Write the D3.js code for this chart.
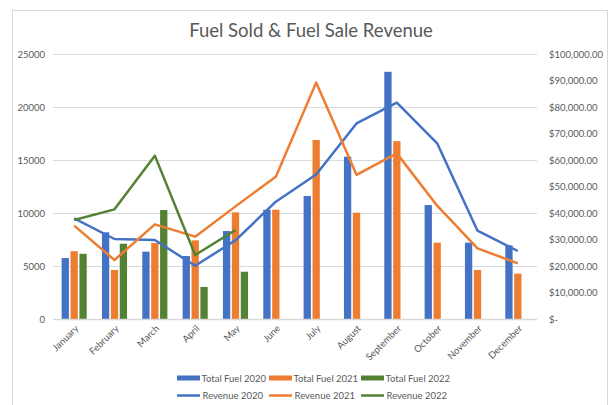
<!DOCTYPE html>
<html>
<head>
<meta charset="utf-8">
<script src="https://cdn.jsdelivr.net/npm/d3@7"></script>
<style>
  html, body { margin: 0; padding: 0; background: #fff; }
  svg { display: block; font-family: Lato, "Open Sans", sans-serif; }
</style>
</head>
<body>
<svg id="chart" width="612" height="405"></svg>
<script>
const months = ["January","February","March","April","May","June","July","August","September","October","November","December"];
const fuel2020 = [5750, 8180, 6350, 5940, 8300, 10310, 11600, 15310, 23320, 10750, 7200, 6950];
const fuel2021 = [6400, 4620, 7170, 7420, 10060, 10310, 16890, 10030, 16780, 7200, 4620, 4280];
const fuel2022 = [6150, 7100, 10280, 3020, 4460, null, null, null, null, null, null, null];
const revenue2020 = [38000, 30190, 29800, 20100, 29700, 44270, 54500, 73800, 81630, 66290, 33330, 25660];
const revenue2021 = [35220, 22260, 35720, 31070, 42500, 53700, 89200, 54400, 62500, 42770, 26670, 21000];
const revenue2022 = [37360, 41380, 61640, 24150, 33580, null, null, null, null, null, null, null];
const leftTicks = [0, 5000, 10000, 15000, 20000, 25000];
const rightTicks = [0, 10000, 20000, 30000, 40000, 50000, 60000, 70000, 80000, 90000, 100000];
const barSeries = ["Total Fuel 2020", "Total Fuel 2021", "Total Fuel 2022"];
const lineSeries = ["Revenue 2020", "Revenue 2021", "Revenue 2022"];
const colors = ["#4472C4", "#ED7D31", "#548235"];

const svg = d3.select("#chart");
const textColor = "#595959";
const plot = { left: 54, right: 538, top: 54, bottom: 319 };

// chart border
svg.append("rect").attr("x", 12.5).attr("y", 10.5).attr("width", 595).attr("height", 420)
  .attr("fill", "none").attr("stroke", "#d9d9d9").attr("stroke-width", 1);

// title
svg.append("text").attr("x", 311).attr("y", 37).attr("text-anchor", "middle")
  .attr("font-size", 18.5).attr("fill", textColor).text("Fuel Sold & Fuel Sale Revenue");

const x0 = d3.scaleBand().domain(months).range([plot.left, plot.right]).padding(0);
const x1 = d3.scaleBand().domain(barSeries).range([0, x0.bandwidth()]).paddingInner(0.18).paddingOuter(0.855);
const yL = d3.scaleLinear().domain([0, 25000]).range([plot.bottom, plot.top]);
const yR = d3.scaleLinear().domain([0, 100000]).range([plot.bottom, plot.top]);

// gridlines
svg.append("g").selectAll("line").data(leftTicks.filter(d => d > 0)).join("line")
  .attr("x1", plot.left - 1).attr("x2", plot.right - 1)
  .attr("y1", d => Math.round(yL(d)) + 0.5).attr("y2", d => Math.round(yL(d)) + 0.5)
  .attr("stroke", "#d9d9d9").attr("stroke-width", 1);

// left axis
const axL = d3.axisLeft(yL).tickValues(leftTicks).tickSize(0).tickPadding(0).tickFormat(d3.format("d"));
svg.append("g").attr("transform", `translate(45,0)`).call(axL)
  .call(g => g.select(".domain").remove())
  .selectAll("text").attr("fill", textColor).attr("font-size", 9.5).attr("font-family", "Lato, sans-serif");

// right axis
const fmtR = d => d === 0 ? "$-" : "$" + d3.format(",.2f")(d);
const axR = d3.axisRight(yR).tickValues(rightTicks).tickSize(0).tickPadding(0).tickFormat(fmtR);
svg.append("g").attr("transform", `translate(549,0)`).call(axR)
  .call(g => g.select(".domain").remove())
  .selectAll("text").attr("fill", textColor).attr("font-size", 9.5).attr("font-family", "Lato, sans-serif");

// bars
const barData = [fuel2020, fuel2021, fuel2022];
barData.forEach((arr, si) => {
  svg.append("g").selectAll("rect")
    .data(arr.map((v, i) => ({ m: months[i], v })).filter(d => d.v != null))
    .join("rect")
    .attr("x", d => x0(d.m) + x1(barSeries[si]))
    .attr("width", x1.bandwidth())
    .attr("y", d => yL(d.v))
    .attr("height", d => yL(0) - yL(d.v))
    .attr("fill", colors[si]);
});

// x axis baseline
svg.append("line").attr("x1", plot.left - 1).attr("x2", plot.right - 1)
  .attr("y1", plot.bottom + 0.5).attr("y2", plot.bottom + 0.5)
  .attr("stroke", "#d9d9d9").attr("stroke-width", 1.5);

// x labels
const axB = d3.axisBottom(x0).tickSize(0).tickPadding(0);
const gB = svg.append("g").attr("transform", `translate(0,${plot.bottom})`).call(axB);
gB.select(".domain").remove();
gB.selectAll("text")
  .attr("fill", textColor).attr("font-size", 9.5).attr("font-family", "Lato, sans-serif")
  .attr("text-anchor", "end").attr("dy", null).attr("y", 0)
  .attr("transform", "translate(5,10) rotate(-45)");

// lines
const revData = [revenue2020, revenue2021, revenue2022];
const line = d3.line()
  .defined(d => d.v != null)
  .x(d => x0(d.m) + x0.bandwidth() / 2)
  .y(d => yR(d.v));
revData.forEach((arr, si) => {
  svg.append("path")
    .datum(arr.map((v, i) => ({ m: months[i], v })))
    .attr("d", line)
    .attr("fill", "none").attr("stroke", colors[si]).attr("stroke-width", 2.5)
    .attr("stroke-linejoin", "round");
});

// legend
const legX = [177, 269, 361];
const lg = svg.append("g").attr("font-size", 9.5).attr("fill", textColor);
barSeries.forEach((s, i) => {
  lg.append("rect").attr("x", legX[i]).attr("y", 375.5).attr("width", 23).attr("height", 5).attr("fill", colors[i]);
  lg.append("text").attr("x", legX[i] + 24.5).attr("y", 381.5).text(s);
});
lineSeries.forEach((s, i) => {
  lg.append("line").attr("x1", legX[i]).attr("x2", legX[i] + 23).attr("y1", 395.5).attr("y2", 395.5)
    .attr("stroke", colors[i]).attr("stroke-width", 2.5);
  lg.append("text").attr("x", legX[i] + 25.5).attr("y", 399).text(s);
});
</script>
</body>
</html>
